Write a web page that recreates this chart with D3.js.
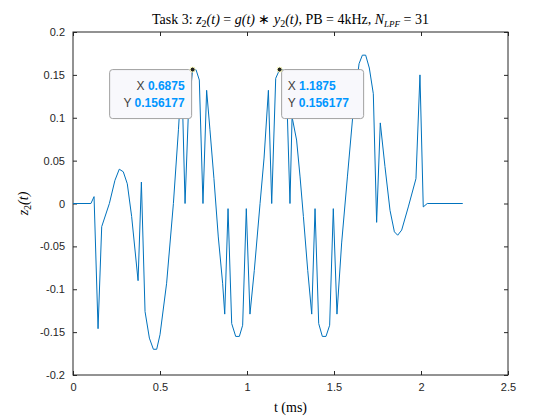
<!DOCTYPE html>
<html><head><meta charset="utf-8">
<script src="https://cdn.jsdelivr.net/npm/d3@7"></script>
<style>body{margin:0;background:#fff}</style>
</head><body><div id="chart"></div>
<script>
// signal z2(t)
const tVals = [0,0.103,0.121,0.144,0.165,0.209,0.241,0.266,0.289,0.312,0.337,0.374,0.393,0.414,0.439,0.462,0.481,0.5,0.538,0.577,0.606,0.625,0.644,0.663,0.6875,0.707,0.726,0.747,0.768,0.787,0.81,0.835,0.86,0.872,0.891,0.912,0.935,0.956,0.975,0.996,1.017,1.042,1.075,1.098,1.123,1.142,1.165,1.1875,1.207,1.226,1.247,1.259,1.285,1.305,1.324,1.349,1.372,1.391,1.412,1.433,1.454,1.475,1.496,1.517,1.544,1.577,1.611,1.644,1.663,1.682,1.703,1.726,1.745,1.766,1.793,1.822,1.847,1.866,1.889,1.927,1.971,1.994,2.013,2.036,2.24];
const zVals = [0,0,0.008,-0.146,-0.027,0,0.027,0.040,0.037,0.023,-0.015,-0.09,0.025,-0.126,-0.157,-0.170,-0.170,-0.153,-0.093,0,0.086,0.15,0,0.105,0.156177,0.156,0.144,0,0.132,0.086,0.029,-0.039,-0.093,-0.129,-0.006,-0.140,-0.155,-0.155,-0.142,-0.006,-0.129,-0.078,0,0.053,0.132,0,0.146,0.156177,0.156,0.144,0,0.101,0.074,0.031,-0.015,-0.078,-0.129,-0.006,-0.140,-0.155,-0.155,-0.142,-0.006,-0.129,-0.046,0.031,0.109,0.163,0.173,0.173,0.158,0.128,-0.022,0.094,0.043,-0.008,-0.033,-0.037,-0.031,-0.004,0.029,0.150,-0.004,0,0];
const xTicks = [0,0.5,1,1.5,2,2.5];
const yTicks = [-0.2,-0.15,-0.1,-0.05,0,0.05,0.1,0.15,0.2];
const tips = [{x:0.6875,y:0.156177,lx:"0.6875",ly:"0.156177",side:"left"},{x:1.1875,y:0.156177,lx:"1.1875",ly:"0.156177",side:"right"}];

const width = 560, height = 420;
const L = 73, R = 508, T = 32, B = 375;
const svg = d3.select("#chart").append("svg").attr("width", width).attr("height", height);
const x = d3.scaleLinear().domain([0,2.5]).range([L,R]);
const y = d3.scaleLinear().domain([-0.2,0.2]).range([B,T]);

const fmt = d => d === 0 ? "0" : String(d);
const axisStyle = g => {
  g.selectAll("path").remove();
  g.selectAll("line").attr("stroke","#262626");
  g.selectAll("text").attr("fill","#262626").attr("font-family","Liberation Sans, Arial, sans-serif").attr("font-size",11);
};
svg.append("g").attr("transform","translate(0,"+B+")")
  .call(d3.axisBottom(x).tickValues(xTicks).tickFormat(fmt).tickSizeInner(-4).tickPadding(8)).call(axisStyle);
svg.append("g").attr("transform","translate(0,"+T+")")
  .call(d3.axisTop(x).tickValues(xTicks).tickFormat("").tickSizeInner(-4)).call(axisStyle);
svg.append("g").attr("transform","translate("+L+",0)")
  .call(d3.axisLeft(y).tickValues(yTicks).tickFormat(fmt).tickSizeInner(-4).tickPadding(8)).call(axisStyle);
svg.append("g").attr("transform","translate("+R+",0)")
  .call(d3.axisRight(y).tickValues(yTicks).tickFormat("").tickSizeInner(-4)).call(axisStyle);
svg.append("rect").attr("x",L).attr("y",T).attr("width",R-L).attr("height",B-T)
  .attr("fill","none").attr("stroke","#262626").attr("stroke-width",1);

const data = tVals.map((t,i) => [t, zVals[i]]);
svg.append("path").datum(data).attr("fill","none").attr("stroke","#0072BD").attr("stroke-width",1)
  .attr("d", d3.line().x(d => x(d[0])).y(d => y(d[1])));

// data tips
tips.forEach(tp => {
  const px = x(tp.x), py = y(tp.y);
  const bw = 82, bh = 49;
  const bx = tp.side === "left" ? px - bw - 1 : px + 2, by = py;
  svg.append("rect").attr("x",bx).attr("y",by).attr("width",bw).attr("height",bh).attr("rx",3)
    .attr("fill","#f8f8fc").attr("stroke","#a0a0a0").attr("stroke-width",1);
  const g = svg.append("g").attr("font-family","Liberation Sans, Arial, sans-serif").attr("font-size",12);
  const tx = tp.side === "left" ? bx + bw - 7 : bx + 6;
  const anchor = tp.side === "left" ? "end" : "start";
  [["X ",tp.lx,by+20],["Y ",tp.ly,by+37]].forEach(r => {
    const t = g.append("text").attr("x",tx).attr("y",r[2]).attr("text-anchor",anchor);
    t.append("tspan").attr("fill","#404040").text(r[0]);
    t.append("tspan").attr("fill","#0096ff").attr("font-weight","bold").text(r[1]);
  });
  svg.append("circle").attr("cx",px).attr("cy",py).attr("r",2.5).attr("fill","#222").attr("stroke","#ffffc0").attr("stroke-width",1);
});

// title and labels
const serif = "Liberation Serif, Times New Roman, serif";
const title = svg.append("text").attr("x",(L+R)/2).attr("y",24).attr("text-anchor","middle")
  .attr("font-family",serif).attr("font-size",14).attr("fill","#000");
title.append("tspan").text("Task 3: ");
title.append("tspan").attr("font-style","italic").text("z");
title.append("tspan").attr("font-size",10).attr("dy",3).text("2");
title.append("tspan").attr("dy",-3).attr("font-style","italic").text("(t)");
title.append("tspan").text(" = ");
title.append("tspan").attr("font-style","italic").text("g(t)");
title.append("tspan").text(" ∗ ");
title.append("tspan").attr("font-style","italic").text("y");
title.append("tspan").attr("font-size",10).attr("dy",3).text("2");
title.append("tspan").attr("dy",-3).attr("font-style","italic").text("(t)");
title.append("tspan").text(", PB = 4kHz, ");
title.append("tspan").attr("font-style","italic").text("N");
title.append("tspan").attr("font-size",9).attr("dy",3).attr("font-style","italic").text("LPF");
title.append("tspan").attr("dy",-3).text(" = 31");

svg.append("text").attr("x",(L+R)/2).attr("y",412).attr("text-anchor","middle")
  .attr("font-family",serif).attr("font-size",14).text("t (ms)");
const yl = svg.append("text").attr("transform","translate(28,"+((T+B)/2)+") rotate(-90)").attr("text-anchor","middle")
  .attr("font-family",serif).attr("font-size",14);
yl.append("tspan").attr("font-style","italic").text("z");
yl.append("tspan").attr("font-size",10).attr("dy",3).text("2");
yl.append("tspan").attr("dy",-3).attr("font-style","italic").text("(t)");
</script></body></html>
